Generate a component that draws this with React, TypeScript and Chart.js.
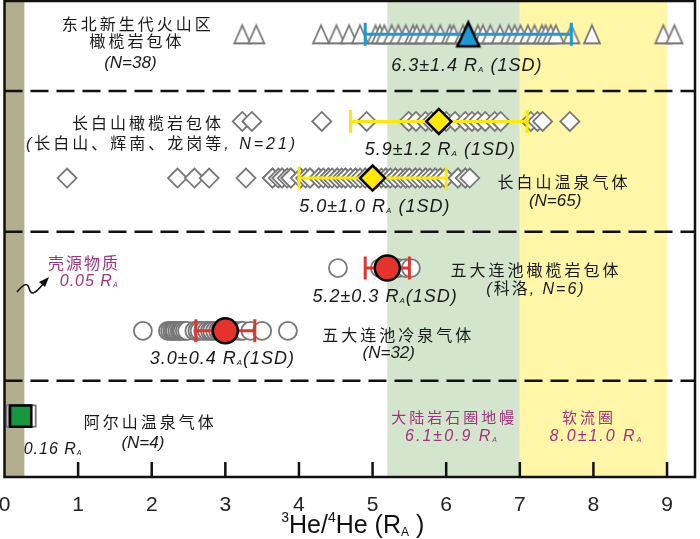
import React, { useEffect, useRef } from 'react';
import { Chart, registerables } from 'chart.js';

Chart.register(...registerables);

const FONT = "'Liberation Sans', 'Noto Sans CJK SC', Arial, sans-serif";

// ---- data (3He/4He in R_A) ----
const triNE = [3.23, 3.42, 4.30, 4.51, 4.68, 4.83, 5.04, 5.10, 5.16, 5.26, 5.35, 5.45, 5.55, 5.60, 5.69, 5.80, 5.92, 6.05, 6.10, 6.23, 6.30, 6.43, 6.50, 6.60, 6.73, 6.85, 6.93, 7.01, 7.11, 7.20, 7.30, 7.35, 7.42, 7.49, 7.70, 7.98, 8.95, 9.10];
const diaCBSXeno = [3.23, 3.36, 4.31, 4.92, 5.49, 5.59, 5.72, 5.80, 5.95, 6.00, 6.12, 6.26, 6.35, 6.43, 6.53, 6.66, 6.74, 7.15, 7.24, 7.31, 7.68];
const diaCBSGas = [0.85, 2.35, 2.58, 2.78, 3.28, 3.64, 3.64, 3.72, 3.77, 3.77, 3.84, 3.89, 3.89, 4.02, 4.02, 4.09, 4.15, 4.15, 4.27, 4.27, 4.33, 4.40, 4.40, 4.45, 4.52, 4.52, 4.58, 4.63, 4.63, 4.70, 4.77, 4.77, 4.83, 4.90, 4.90, 4.95, 5.00, 5.05, 5.05, 5.12, 5.18, 5.18, 5.24, 5.31, 5.31, 5.38, 5.45, 5.45, 5.50, 5.58, 5.58, 5.64, 5.72, 5.72, 5.78, 5.85, 5.85, 5.92, 5.99, 5.99, 6.16, 6.16, 6.26, 6.26, 6.32];
const circWDLCXeno = [4.53, 5.10, 5.25, 5.35, 5.45, 5.52];
const circWDLCGas = [1.88, 2.22, 2.25, 2.28, 2.30, 2.32, 2.35, 2.38, 2.40, 2.42, 2.45, 2.48, 2.58, 2.62, 2.65, 2.70, 2.75, 2.79, 2.82, 2.86, 2.90, 2.93, 2.98, 3.02, 3.06, 3.10, 3.14, 3.20, 3.24, 3.34, 3.50, 3.85];
const sqAES = [0.17, 0.20, 0.24, 0.28];
// group means and 1SD: NE xenoliths, CBS xenoliths, CBS gas, WDLC xenoliths, WDLC gas, AES gas
const groupMeans = [6.3, 5.9, 5.0, 5.2, 3.0, 0.22];
const groupSD = [1.4, 1.2, 1.0, 0.3, 0.4, 0];
// reference ranges
const crustBand = [0, 0.27];
const sclmBand = [5.2, 7.0];
const asthBand = [7.0, 9.0];
const xTickValues = [0, 1, 2, 3, 4, 5, 6, 7, 8, 9];

// ---- layout (row heights on a 0..100 vertical scale) ----
const ROW = { tri: 93.0, diaUp: 74.7, diaLow: 62.8, circUp: 43.9, circLow: 30.7, sq: 12.8 };
const meanRows = [ROW.tri, ROW.diaUp, ROW.diaLow, ROW.circUp, ROW.circLow, ROW.sq];
const dividers = [81.1, 51.5, 20.2];

const BLACK = '#1a1a1a';
const MAG = '#a3327c';
const BLUE = '#1c9ad6';
const YEL = '#ffe900';
const RED = '#e5322a';
const GRAY = '#777777';

type Seg = { t: string; i?: boolean; sub?: boolean };
type Lbl = { x: number; y: number; segs: Seg[]; size: number; color: string; ls?: number };

const RA = (pre: string, post: string, italic = true): Seg[] => [
  { t: pre, i: italic }, { t: 'R', i: italic }, { t: 'A', i: italic, sub: true }, { t: post, i: italic },
];

const labels: Lbl[] = [
  { x: 1.81, y: 95.2, segs: [{ t: '东北新生代火山区' }], size: 16, color: BLACK, ls: 3 },
  { x: 1.80, y: 91.6, segs: [{ t: '橄榄岩包体' }], size: 16, color: BLACK, ls: 3 },
  { x: 1.71, y: 87.2, segs: [{ t: '(N=38)', i: true }], size: 17, color: BLACK },
  { x: 6.28, y: 86.6, segs: RA('6.3±1.4 ', ' (1SD)'), size: 18, color: BLACK, ls: 1 },
  { x: 1.95, y: 74.4, segs: [{ t: '长白山橄榄岩包体' }], size: 16, color: BLACK, ls: 3 },
  { x: 2.14, y: 70.2, segs: [{ t: '(', i: true }, { t: '长白山、辉南、龙岗等' }, { t: ', N=21)', i: true }], size: 16, color: BLACK, ls: 3 },
  { x: 5.92, y: 69.1, segs: RA('5.9±1.2 ', ' (1SD)'), size: 18, color: BLACK, ls: 1 },
  { x: 5.03, y: 57.1, segs: RA('5.0±1.0 ', ' (1SD)'), size: 18, color: BLACK, ls: 1 },
  { x: 7.60, y: 62.0, segs: [{ t: '长白山温泉气体' }], size: 16, color: BLACK, ls: 3 },
  { x: 7.48, y: 58.2, segs: [{ t: '(N=65)', i: true }], size: 17, color: BLACK },
  { x: 1.08, y: 45.0, segs: [{ t: '壳源物质' }], size: 16, color: MAG, ls: 2 },
  { x: 1.15, y: 41.4, segs: RA('0.05 ', ''), size: 16, color: MAG, ls: 1 },
  { x: 5.17, y: 38.2, segs: RA('5.2±0.3 ', '(1SD)'), size: 18, color: BLACK, ls: 1 },
  { x: 7.22, y: 43.5, segs: [{ t: '五大连池橄榄岩包体' }], size: 16, color: BLACK, ls: 3 },
  { x: 7.22, y: 39.7, segs: [{ t: '(', i: true }, { t: '科洛' }, { t: ', N=6)', i: true }], size: 16, color: BLACK, ls: 2 },
  { x: 2.96, y: 25.2, segs: RA('3.0±0.4 ', '(1SD)'), size: 18, color: BLACK, ls: 1 },
  { x: 5.35, y: 29.8, segs: [{ t: '五大连池冷泉气体' }], size: 16, color: BLACK, ls: 3 },
  { x: 5.22, y: 26.3, segs: [{ t: '(N=32)', i: true }], size: 17, color: BLACK },
  { x: 1.98, y: 11.6, segs: [{ t: '阿尔山温泉气体' }], size: 16, color: BLACK, ls: 3 },
  { x: 1.88, y: 7.4, segs: [{ t: '(N=4)', i: true }], size: 17, color: BLACK },
  { x: 0.66, y: 6.1, segs: RA('0.16 ', ''), size: 16, color: BLACK, ls: 1 },
  { x: 6.11, y: 12.4, segs: [{ t: '大陆岩石圈地幔' }], size: 15, color: MAG, ls: 3 },
  { x: 6.08, y: 8.8, segs: RA('6.1±0.9 ', ''), size: 16, color: MAG, ls: 2 },
  { x: 7.94, y: 12.4, segs: [{ t: '软流圈' }], size: 15, color: MAG, ls: 3 },
  { x: 8.04, y: 8.8, segs: RA('8.0±1.0 ', ''), size: 16, color: MAG, ls: 2 },
];

function drawRich(ctx: CanvasRenderingContext2D, l: Lbl, px: number, py: number) {
  const fontFor = (s: Seg) => `${s.i ? 'italic ' : ''}${s.sub ? Math.round(l.size * 0.45) : l.size}px ${FONT}`;
  (ctx as any).letterSpacing = `${l.ls || 0}px`;
  const widths: number[] = [];
  let total = 0;
  for (const s of l.segs) {
    ctx.font = fontFor(s);
    const w = ctx.measureText(s.t).width;
    widths.push(w);
    total += w;
  }
  let cx = px - total / 2;
  const base = py + 0.36 * l.size;
  ctx.fillStyle = l.color;
  ctx.textAlign = 'left';
  ctx.textBaseline = 'alphabetic';
  l.segs.forEach((s, i) => {
    ctx.font = fontFor(s);
    ctx.fillText(s.t, cx, s.sub ? base + 0.06 * l.size : base);
    cx += widths[i];
  });
  (ctx as any).letterSpacing = '0px';
}

function triImg(w: number, h: number, fill: string, stroke: string, lw: number) {
  const m = 4;
  const c = document.createElement('canvas');
  c.width = w + 2 * m;
  c.height = h + 2 * m;
  const g = c.getContext('2d')!;
  g.beginPath();
  g.moveTo(m + w / 2, m);
  g.lineTo(m + w, m + h);
  g.lineTo(m, m + h);
  g.closePath();
  g.fillStyle = fill;
  g.fill();
  g.lineWidth = lw;
  g.strokeStyle = stroke;
  g.lineJoin = 'miter';
  g.stroke();
  return c;
}

const errColors = [BLUE, YEL, YEL, RED, RED];

const deco = {
  id: 'deco',
  beforeDatasetsDraw(chart: any) {
    const { ctx, chartArea: a, scales } = chart;
    const x = scales.x, y = scales.y;
    ctx.save();
    const band = (r: number[], col: string) => {
      const x0 = x.getPixelForValue(r[0]);
      const x1 = x.getPixelForValue(r[1]);
      ctx.fillStyle = col;
      ctx.fillRect(x0, a.top, x1 - x0, a.bottom - a.top);
    };
    band(sclmBand, '#d3e6cd');
    band(asthBand, '#fff6a8');
    band(crustBand, '#b2ae8e');
    ctx.setLineDash([18, 8]);
    ctx.lineWidth = 2.5;
    ctx.strokeStyle = '#111';
    for (const d of dividers) {
      const py = y.getPixelForValue(d);
      ctx.beginPath();
      ctx.moveTo(a.left, py);
      ctx.lineTo(a.right, py);
      ctx.stroke();
    }
    ctx.restore();
  },
  afterDatasetDraw(chart: any, args: any) {
    if (args.index !== 6) return;
    const { ctx, scales } = chart;
    const x = scales.x, y = scales.y;
    ctx.save();
    ctx.lineWidth = 3;
    for (let i = 0; i < 5; i++) {
      const lo = x.getPixelForValue(groupMeans[i] - groupSD[i]);
      const hi = x.getPixelForValue(groupMeans[i] + groupSD[i]);
      const py = y.getPixelForValue(meanRows[i]);
      ctx.strokeStyle = errColors[i];
      ctx.beginPath();
      ctx.moveTo(lo, py); ctx.lineTo(hi, py);
      ctx.moveTo(lo, py - 11.5); ctx.lineTo(lo, py + 11.5);
      ctx.moveTo(hi, py - 11.5); ctx.lineTo(hi, py + 11.5);
      ctx.stroke();
    }
    ctx.restore();
  },
  afterDraw(chart: any) {
    const { ctx, chartArea: a, scales } = chart;
    const x = scales.x, y = scales.y;
    ctx.save();
    // frame
    ctx.strokeStyle = '#111';
    ctx.lineWidth = 2.5;
    ctx.strokeRect(a.left, a.top, a.right - a.left, a.bottom - a.top);
    // inward ticks
    ctx.beginPath();
    for (const t of xTickValues) {
      if (t === 0) continue;
      const px = x.getPixelForValue(t);
      ctx.moveTo(px, a.bottom);
      ctx.lineTo(px, a.bottom - 15);
    }
    ctx.stroke();
    // labels
    for (const l of labels) drawRich(ctx, l, x.getPixelForValue(l.x), y.getPixelForValue(l.y));
    // squiggle arrow
    const ox = x.getPixelForValue(0.17), oy = y.getPixelForValue(38.87);
    ctx.strokeStyle = '#111';
    ctx.lineWidth = 1.5;
    ctx.beginPath();
    ctx.moveTo(ox, oy);
    ctx.bezierCurveTo(ox + 5, oy - 6, ox + 10, oy - 11, ox + 12, oy - 4);
    ctx.bezierCurveTo(ox + 14, oy + 4, ox + 18, oy + 2, ox + 26, oy - 8);
    ctx.stroke();
    ctx.fillStyle = '#111';
    ctx.beginPath();
    ctx.moveTo(ox + 32, oy - 15);
    ctx.lineTo(ox + 22, oy - 10);
    ctx.lineTo(ox + 28, oy - 5);
    ctx.closePath();
    ctx.fill();
    // axis title  3He/4He (RA)
    const segs: { t: string; sz: number; dy: number }[] = [
      { t: '3', sz: 14, dy: -11 },
      { t: 'He/', sz: 25, dy: 0 },
      { t: '4', sz: 14, dy: -11 },
      { t: 'He (R', sz: 25, dy: 0 },
      { t: 'A', sz: 12, dy: 3 },
      { t: ' )', sz: 25, dy: 0 },
    ];
    let tw = 0;
    const ws: number[] = [];
    for (const s of segs) {
      ctx.font = `${s.sz}px ${FONT}`;
      const w = ctx.measureText(s.t).width;
      ws.push(w);
      tw += w;
    }
    let cx = (a.left + a.right) / 2 + 3 - tw / 2;
    const base = 533;
    ctx.fillStyle = '#111';
    ctx.textBaseline = 'alphabetic';
    ctx.textAlign = 'left';
    segs.forEach((s, i) => {
      ctx.font = `${s.sz}px ${FONT}`;
      ctx.fillText(s.t, cx, base + s.dy);
      cx += ws[i];
    });
    ctx.restore();
  },
};

export default function App() {
  const ref = useRef<HTMLCanvasElement>(null);
  useEffect(() => {
    const canvas = ref.current!;
    const grayTri = triImg(16, 18, '#ffffff', GRAY, 1.8);
    const blueTri = triImg(22, 24, BLUE, '#000000', 2.5);
    const pts = (arr: number[], yv: number) => arr.map((v) => ({ x: v, y: yv }));
    const chart = new Chart(canvas, {
      type: 'scatter',
      data: {
        datasets: [
          { data: pts([groupMeans[5]], ROW.sq), pointStyle: 'rect', pointRadius: 15, backgroundColor: '#16983f', borderColor: '#000', borderWidth: 2.5 },
          { data: pts([groupMeans[4]], ROW.circLow), pointStyle: 'circle', pointRadius: 12.5, backgroundColor: RED, borderColor: '#000', borderWidth: 2.5 },
          { data: pts([groupMeans[3]], ROW.circUp), pointStyle: 'circle', pointRadius: 12.5, backgroundColor: RED, borderColor: '#000', borderWidth: 2.5 },
          { data: pts([groupMeans[2]], ROW.diaLow), pointStyle: 'rectRot', pointRadius: 12.5, backgroundColor: YEL, borderColor: '#000', borderWidth: 2.5 },
          { data: pts([groupMeans[1]], ROW.diaUp), pointStyle: 'rectRot', pointRadius: 12.5, backgroundColor: YEL, borderColor: '#000', borderWidth: 2.5 },
          { data: pts([groupMeans[0]], ROW.tri), pointStyle: blueTri as any, pointRadius: 12 },
          { data: pts(sqAES, ROW.sq), pointStyle: 'rect', pointRadius: 15, backgroundColor: '#fff', borderColor: GRAY, borderWidth: 1.8 },
          { data: pts(circWDLCGas, ROW.circLow), pointStyle: 'circle', pointRadius: 9, backgroundColor: '#fff', borderColor: GRAY, borderWidth: 1.8 },
          { data: pts(circWDLCXeno, ROW.circUp), pointStyle: 'circle', pointRadius: 9, backgroundColor: '#fff', borderColor: GRAY, borderWidth: 1.8 },
          { data: pts(diaCBSGas, ROW.diaLow), pointStyle: 'rectRot', pointRadius: 9.5, backgroundColor: '#fff', borderColor: GRAY, borderWidth: 1.8 },
          { data: pts(diaCBSXeno, ROW.diaUp), pointStyle: 'rectRot', pointRadius: 9.5, backgroundColor: '#fff', borderColor: GRAY, borderWidth: 1.8 },
          { data: pts(triNE, ROW.tri), pointStyle: grayTri as any, pointRadius: 10 },
        ].map((d) => ({ ...d, clip: false as any, pointHoverRadius: (d as any).pointRadius })),
      },
      options: {
        animation: false,
        responsive: false,
        maintainAspectRatio: false,
        events: [],
        layout: { autoPadding: false, padding: { left: 4.5, right: 5, top: 1, bottom: 0 } },
        plugins: { legend: { display: false }, tooltip: { enabled: false } },
        scales: {
          x: {
            type: 'linear',
            min: 0,
            max: 9.38,
            grid: { display: false },
            border: { display: false },
            afterBuildTicks: (s: any) => {
              s.ticks = xTickValues.map((v) => ({ value: v }));
            },
            afterFit: (s: any) => {
              s.height = 62;
              s.paddingLeft = 0;
              s.paddingRight = 0;
            },
            ticks: {
              autoSkip: false,
              maxRotation: 0,
              padding: 8,
              color: '#222',
              font: { family: FONT, size: 21 },
              callback: (v: any) => String(v),
            },
          },
          y: { type: 'linear', min: 0, max: 100, display: false },
        },
      },
      plugins: [deco],
    });
    return () => chart.destroy();
  }, []);
  return (
    <div style={{ position: 'fixed', left: 0, top: 0, width: 700, height: 539, background: '#fff' }}>
      <canvas ref={ref} width={700} height={539} style={{ display: 'block', width: 700, height: 539 }} />
    </div>
  );
}
